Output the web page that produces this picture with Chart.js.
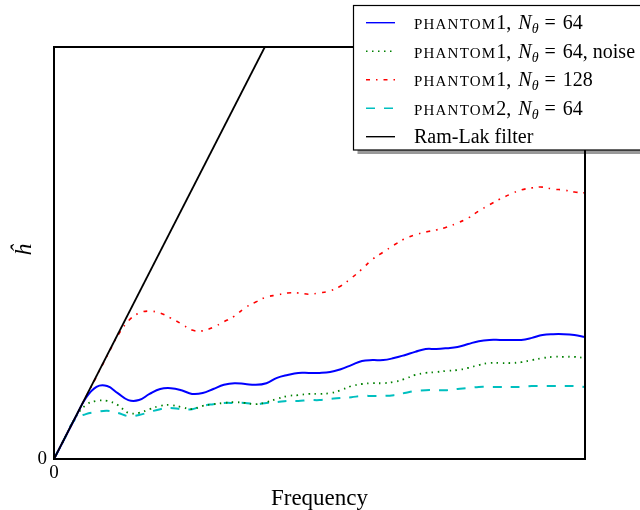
<!DOCTYPE html>
<html>
<head>
<meta charset="utf-8">
<script src="https://cdn.jsdelivr.net/npm/chart.js@4.4.1/dist/chart.umd.min.js"></script>
<style>
  html, body { margin: 0; padding: 0; background: #fff; }
  #wrap { width: 640px; height: 510px; }
</style>
</head>
<body>
<div id="wrap"><canvas id="chart" width="640" height="510"></canvas></div>
<script>
// Normalised frequency axis (0 .. Nyquist)
const freq = [
  0.00, 0.02, 0.04, 0.06, 0.08, 0.10, 0.12, 0.14, 0.16, 0.18,
  0.20, 0.22, 0.24, 0.26, 0.28, 0.30, 0.32, 0.34, 0.36, 0.38,
  0.40, 0.42, 0.44, 0.46, 0.48, 0.50, 0.52, 0.54, 0.56, 0.58,
  0.60, 0.62, 0.64, 0.66, 0.68, 0.70, 0.72, 0.74, 0.76, 0.78,
  0.80, 0.82, 0.84, 0.86, 0.88, 0.90, 0.92, 0.94, 0.96, 0.98, 1.00
];

// Learned filter responses h-hat
const phantom1_64 = [
  0.000, 0.050, 0.100, 0.148, 0.175, 0.177, 0.160, 0.143, 0.143, 0.158,
  0.170, 0.172, 0.167, 0.158, 0.160, 0.170, 0.180, 0.184, 0.182, 0.180,
  0.184, 0.197, 0.204, 0.209, 0.209, 0.209, 0.211, 0.218, 0.228, 0.238,
  0.240, 0.240, 0.245, 0.252, 0.260, 0.267, 0.267, 0.269, 0.272, 0.279,
  0.286, 0.289, 0.289, 0.289, 0.289, 0.294, 0.301, 0.303, 0.303, 0.301, 0.296
];
const phantom1_64_noise = [
  0.000, 0.050, 0.100, 0.131, 0.141, 0.141, 0.131, 0.112, 0.112, 0.121,
  0.129, 0.131, 0.126, 0.121, 0.129, 0.133, 0.136, 0.138, 0.136, 0.133,
  0.138, 0.146, 0.153, 0.155, 0.158, 0.158, 0.160, 0.167, 0.177, 0.182,
  0.184, 0.184, 0.187, 0.194, 0.204, 0.209, 0.211, 0.214, 0.216, 0.221,
  0.228, 0.233, 0.233, 0.233, 0.235, 0.240, 0.245, 0.248, 0.248, 0.248, 0.245
];
const phantom1_128 = [
  0.000, 0.050, 0.100, 0.150, 0.200, 0.250, 0.299, 0.335, 0.354, 0.359,
  0.354, 0.342, 0.328, 0.313, 0.311, 0.320, 0.333, 0.347, 0.367, 0.381,
  0.393, 0.398, 0.403, 0.403, 0.400, 0.403, 0.408, 0.420, 0.439, 0.461,
  0.485, 0.502, 0.519, 0.534, 0.544, 0.551, 0.556, 0.563, 0.573, 0.585,
  0.602, 0.617, 0.631, 0.643, 0.653, 0.658, 0.660, 0.655, 0.653, 0.648, 0.646
];
const phantom2_64 = [
  0.000, 0.050, 0.097, 0.109, 0.114, 0.117, 0.112, 0.104, 0.107, 0.114,
  0.121, 0.124, 0.121, 0.121, 0.129, 0.133, 0.136, 0.136, 0.136, 0.133,
  0.136, 0.138, 0.141, 0.141, 0.143, 0.143, 0.146, 0.148, 0.150, 0.153,
  0.153, 0.153, 0.155, 0.160, 0.165, 0.167, 0.167, 0.167, 0.170, 0.172,
  0.175, 0.175, 0.175, 0.175, 0.175, 0.177, 0.177, 0.177, 0.177, 0.177, 0.175
];

// Ram-Lak ramp |w|
const ramLakFreq = [0, 0.397];
const ramLakH = [0, 1];

const tickValues = [0];
const tickLabels = ['0'];

const SERIF = '"Liberation Serif", "DejaVu Serif", serif';

const toXY = (xs, ys) => xs.map((x, i) => ({ x: x, y: ys[i] }));

// legend text pieces: small-caps name, number, N_theta value, trailing note
const legendRows = [
  { name: 'PHANTOM', num: '1', n: '64', note: '' },
  { name: 'PHANTOM', num: '1', n: '64', note: ', noise' },
  { name: 'PHANTOM', num: '1', n: '128', note: '' },
  { name: 'PHANTOM', num: '2', n: '64', note: '' },
  { plain: 'Ram-Lak filter' }
];

// draws text runs one after another; gap adds extra space before a run
function drawRich(ctx, x, y, parts) {
  parts.forEach(p => {
    x += p.gap || 0;
    ctx.font = p.font;
    ctx.letterSpacing = p.ls || '0px';
    ctx.fillText(p.t, x, y + (p.dy || 0));
    x += ctx.measureText(p.t).width;
  });
  ctx.letterSpacing = '0px';
}

const decorations = {
  id: 'decorations',
  afterDatasetsDraw(chart) {
    const { ctx, chartArea: a } = chart;
    ctx.save();
    ctx.strokeStyle = '#000';
    ctx.lineWidth = 2;
    ctx.strokeRect(a.left, a.top, a.right - a.left, a.bottom - a.top);
    ctx.restore();
  },
  afterDraw(chart) {
    const { ctx, chartArea: a } = chart;
    ctx.save();
    ctx.fillStyle = '#000';

    // axis titles
    ctx.font = `23px ${SERIF}`;
    ctx.textAlign = 'center';
    ctx.textBaseline = 'alphabetic';
    ctx.fillText('Frequency', (a.left + a.right) / 2, 505);

    ctx.save();
    ctx.translate(31, (a.top + a.bottom) / 2 - 3);
    ctx.rotate(-Math.PI / 2);
    ctx.font = `italic 24px ${SERIF}`;
    ctx.fillText('ĥ', 0, 0);
    ctx.restore();

    // legend box with drop shadow
    const bx = 353.5, by = 5.5, bw = 300, bh = 144.5;
    ctx.fillStyle = 'rgba(0,0,0,0.4)';
    ctx.fillRect(bx + 4, by + 4, bw, bh);
    ctx.fillStyle = '#fff';
    ctx.fillRect(bx, by, bw, bh);
    ctx.strokeStyle = '#000';
    ctx.lineWidth = 1.2;
    ctx.strokeRect(bx, by, bw, bh);

    ctx.textAlign = 'left';
    const sets = chart.data.datasets;
    legendRows.forEach((row, i) => {
      const ds = sets[i];
      const cy = 22.7 + i * 28.5;
      ctx.save();
      ctx.strokeStyle = ds.borderColor;
      ctx.lineWidth = 1.4;
      ctx.setLineDash(ds.borderDash || []);
      ctx.beginPath();
      ctx.moveTo(366, cy);
      ctx.lineTo(395, cy);
      ctx.stroke();
      ctx.restore();

      ctx.fillStyle = '#000';
      const base = cy + 6.5;
      if (row.plain) {
        drawRich(ctx, 414, base, [{ t: row.plain, font: `20px ${SERIF}` }]);
      } else {
        drawRich(ctx, 414, base, [
          { t: row.name, font: `15px ${SERIF}`, ls: '1.2px' },
          { t: row.num + ',', font: `20px ${SERIF}` },
          { t: 'N', font: `italic 20px ${SERIF}`, gap: 7 },
          { t: 'θ', font: `italic 14px ${SERIF}`, dy: 4 },
          { t: '=', font: `20px ${SERIF}`, gap: 6 },
          { t: row.n + row.note, font: `20px ${SERIF}`, gap: 7 }
        ]);
      }
    });
    ctx.restore();
  }
};

const tickFont = { family: SERIF, size: 19 };

new Chart(document.getElementById('chart'), {
  type: 'line',
  data: {
    datasets: [
      {
        label: 'phantom1, N=64',
        data: toXY(freq, phantom1_64),
        borderColor: '#0000ff',
        borderWidth: 2,
        order: 2
      },
      {
        label: 'phantom1, N=64, noise',
        data: toXY(freq, phantom1_64_noise),
        borderColor: '#008000',
        borderWidth: 1.8,
        borderDash: [1.5, 4.5],
        order: 3
      },
      {
        label: 'phantom1, N=128',
        data: toXY(freq, phantom1_128),
        borderColor: '#ff0000',
        borderWidth: 1.6,
        borderDash: [4, 6, 1.5, 6],
        order: 4
      },
      {
        label: 'phantom2, N=64',
        data: toXY(freq, phantom2_64),
        borderColor: '#00bfbf',
        borderWidth: 2,
        borderDash: [9, 9],
        order: 5
      },
      {
        label: 'Ram-Lak filter',
        data: toXY(ramLakFreq, ramLakH),
        borderColor: '#000000',
        borderWidth: 1.8,
        tension: 0,
        order: 1
      }
    ]
  },
  options: {
    responsive: false,
    animation: false,
    devicePixelRatio: 1,
    parsing: false,
    layout: { padding: { top: 47, right: 55, left: 0, bottom: 0 } },
    elements: {
      point: { radius: 0 },
      line: { tension: 0.4, fill: false }
    },
    plugins: {
      legend: { display: false },
      tooltip: { enabled: false }
    },
    scales: {
      x: {
        type: 'linear',
        min: 0,
        max: 1,
        grid: { display: false, drawTicks: false },
        border: { display: false },
        afterBuildTicks: s => { s.ticks = tickValues.map(v => ({ value: v })); },
        afterFit: s => { s.height = 51; },
        ticks: {
          color: '#000',
          font: tickFont,
          padding: 3,
          maxRotation: 0,
          callback: (v, i) => tickLabels[i]
        }
      },
      y: {
        type: 'linear',
        min: 0,
        max: 1,
        grid: { display: false, drawTicks: false },
        border: { display: false },
        afterBuildTicks: s => { s.ticks = tickValues.map(v => ({ value: v })); },
        afterFit: s => { s.width = 54; },
        ticks: {
          color: '#000',
          font: tickFont,
          padding: 7,
          callback: (v, i) => tickLabels[i]
        }
      }
    }
  },
  plugins: [decorations]
});
</script>
</body>
</html>
